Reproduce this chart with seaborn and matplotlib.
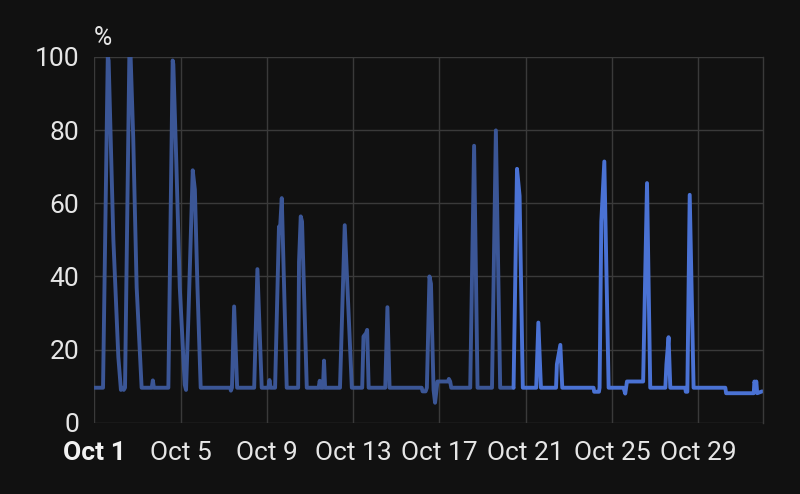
import matplotlib

matplotlib.use("Agg")
import matplotlib.pyplot as plt
import pandas as pd
import seaborn as sns

# Data: day offset from Oct 1 00:00 and value in %
days = [
    0.00, 0.40, 0.62, 0.66, 0.88, 1.11, 1.23, 1.30, 1.36, 1.42, 1.62, 1.68,
    1.80, 1.96, 2.19, 2.66, 2.71, 2.76, 3.43, 3.63, 3.66, 3.80, 3.96, 4.19,
    4.25, 4.36, 4.56, 4.66, 4.78, 4.93, 6.30, 6.33, 6.38, 6.48, 6.62, 7.41,
    7.56, 7.76, 8.07, 8.12, 8.17, 8.38, 8.56, 8.60, 8.69, 8.92, 9.45, 9.49,
    9.57, 9.63, 9.85, 10.40, 10.45, 10.50, 10.60, 10.65, 10.70, 11.39, 11.61,
    11.94, 12.42, 12.48, 12.60, 12.65, 12.72, 13.49, 13.59, 13.69, 15.18,
    15.22, 15.36, 15.42, 15.54, 15.61, 15.73, 15.80, 15.91, 16.40, 16.44,
    16.50, 16.55, 17.43, 17.61, 17.77, 18.44, 18.62, 18.82, 19.44, 19.60,
    19.72, 19.87, 20.49, 20.59, 20.71, 21.41, 21.45, 21.61, 21.70, 23.15,
    23.18, 23.40, 23.43, 23.51, 23.65, 23.85, 24.54, 24.62, 24.70, 25.45,
    25.63, 25.78, 26.48, 26.53, 26.63, 26.71, 27.40, 27.43, 27.50, 27.61,
    27.79, 29.26, 29.30, 30.58, 30.61, 30.66, 30.70, 30.74, 30.97,
]
values = [
    9.6, 9.6, 100, 99, 50, 18, 9.0, 9.6, 9.0, 9.6, 100, 100,
    78, 37, 9.6, 9.6, 11.6, 9.6, 9.6, 99, 98, 71, 37, 10.4,
    9.0, 29, 69, 63.7, 37, 9.6, 9.6, 8.8, 9.6, 31.8, 9.6, 9.6,
    42, 9.6, 9.6, 11.7, 9.6, 9.6, 53.6, 52, 61.4, 9.6, 9.6, 44,
    56.4, 55, 9.6, 9.6, 11.5, 9.6, 9.6, 17, 9.6, 9.6, 54,
    9.6, 9.6, 23.6, 24.5, 25.4, 9.6, 9.6, 31.6, 9.6, 9.6,
    8.6, 8.6, 9.6, 40, 38, 9.0, 5.5, 11.3, 11.3, 12.0,
    11.3, 9.6, 9.6, 75.7, 9.6, 9.6, 79.9, 9.6, 9.6, 69.4,
    62, 9.6, 9.6, 27.4, 9.6, 9.6, 16, 21.3, 9.6, 9.6,
    8.5, 8.5, 9.6, 55, 71.4, 9.6, 9.6, 8.0, 11.3, 11.3,
    65.5, 9.6, 9.6, 16, 23.4, 9.6, 9.6, 8.5, 8.5, 62.3,
    9.6, 9.6, 8.1, 8.1, 11.3, 10.5, 11.3, 8.1, 8.6,
]
switch_day = 19.44  # line turns brighter from here on

tick_dates = ["2023-10-01", "2023-10-05", "2023-10-09", "2023-10-13",
              "2023-10-17", "2023-10-21", "2023-10-25", "2023-10-29"]
tick_labels = ["Oct 1", "Oct 5", "Oct 9", "Oct 13", "Oct 17", "Oct 21",
               "Oct 25", "Oct 29"]
y_ticks = [0, 20, 40, 60, 80, 100]

start = pd.Timestamp("2023-10-01")
df = pd.DataFrame({"day": days, "value": values})
df["time"] = start + pd.to_timedelta(df["day"], unit="D")
old = df[df["day"] <= switch_day]
new = df[df["day"] >= switch_day]

sns.set_style("dark")
plt.rcParams["font.family"] = ["Roboto", "DejaVu Sans"]

bg = "#111111"
grid = "#3a3a3a"

fig = plt.figure(figsize=(8, 4.94), dpi=100, facecolor=bg)
ax = fig.add_axes([0.118, 0.144, 0.8355, 0.741], facecolor=bg)

line_kw = dict(linewidth=2.8, solid_joinstyle="round", solid_capstyle="round",
               ax=ax, sort=False)
sns.lineplot(data=old, x="time", y="value", color="#3b5696", **line_kw)
sns.lineplot(data=new, x="time", y="value", color="#4a72d4", **line_kw)

ax.set_xlim(start, pd.Timestamp("2023-11-01"))
ax.set_ylim(0, 100)
ax.set_xticks(pd.to_datetime(tick_dates))
ax.set_xticklabels(tick_labels)
ax.set_yticks(y_ticks)
ax.grid(True, color=grid, linewidth=1)
ax.set_axisbelow(True)
ax.set_xlabel("")
ax.set_ylabel("")

for side in ["top", "left", "bottom"]:
    ax.spines[side].set_visible(False)
ax.spines["right"].set_visible(True)
ax.spines["right"].set_color(grid)
ax.spines["right"].set_linewidth(1)

ax.tick_params(axis="x", length=7, width=1, color=grid, pad=6,
               labelsize=19, labelcolor="#e6e6e6")
ax.tick_params(axis="y", length=0, pad=11, labelsize=19, labelcolor="#e6e6e6")
first = ax.get_xticklabels()[0]
first.set_fontweight("bold")
first.set_color("#f2f2f2")

ax.text(0.013, 1.052, "%", transform=ax.transAxes, color="#e6e6e6",
        fontsize=18, ha="center", va="center")

fig.savefig("out.png", dpi=100, facecolor=bg)
